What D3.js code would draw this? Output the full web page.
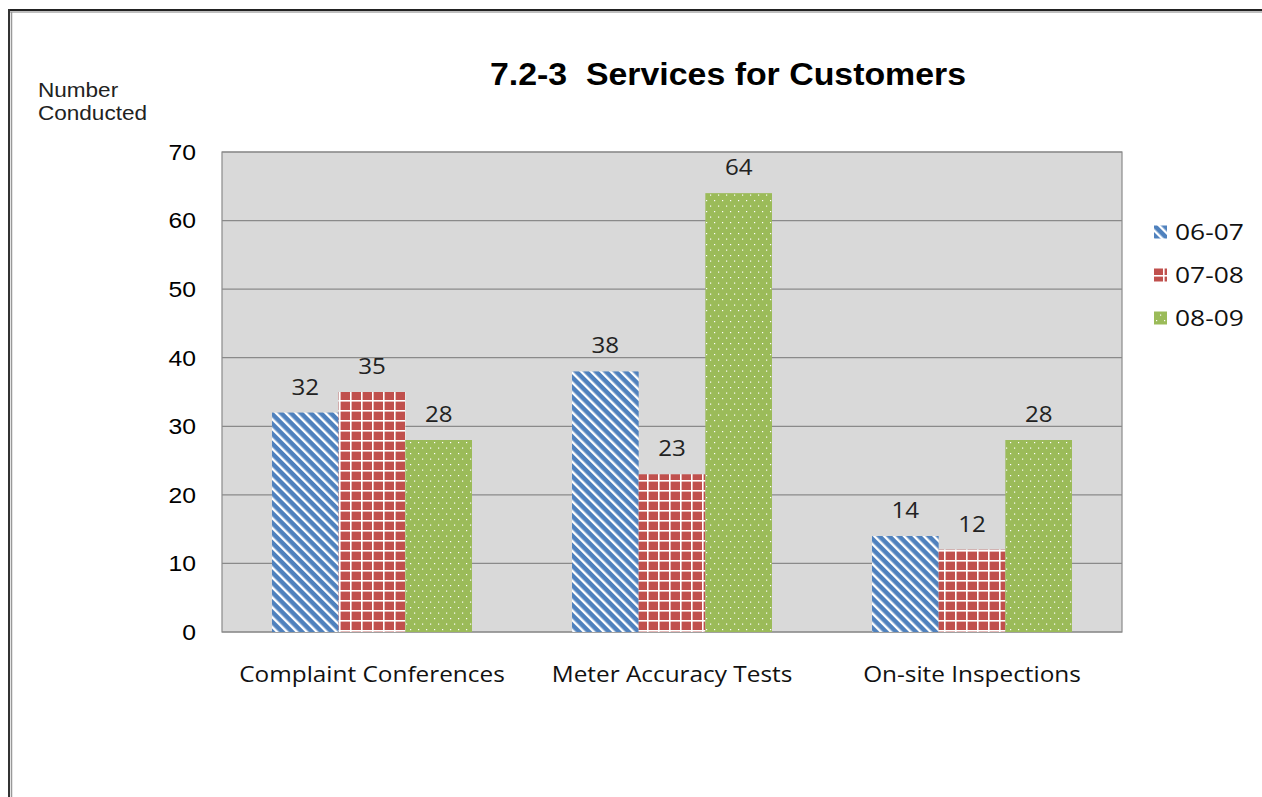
<!DOCTYPE html>
<html><head><meta charset="utf-8">
<script src="https://cdn.jsdelivr.net/npm/d3@7"></script>
<style>html,body{margin:0;padding:0;background:#fff;}svg{display:block;} text{white-space:pre;}</style>
</head><body>
<script>
const categories = ["Complaint Conferences", "Meter Accuracy Tests", "On-site Inspections"];
const seriesNames = ["06-07", "07-08", "08-09"];
const values0607 = [32, 38, 14];
const values0708 = [35, 23, 12];
const values0809 = [28, 64, 28];
const yTicks = [0, 10, 20, 30, 40, 50, 60, 70];
const titleText = "7.2-3  Services for Customers";
const yAxisTitle = ["Number", "Conducted"];

const allValues = [values0607, values0708, values0809];
const colors = ["#4F81BD", "#C0504D", "#9BBB59"];
const W = 1262, H = 797;
const svg = d3.select("body").append("svg").attr("width", W).attr("height", H);

// horizontal stretch of text (the reference glyphs are slightly widened)
function stretch(sel, sx) {
  sel.each(function() {
    const t = d3.select(this);
    const xv = +t.attr("x") || 0;
    const yv = +t.attr("y") || 0;
    t.attr("x", 0).attr("y", 0).attr("transform", `translate(${xv},${yv}) scale(${sx},1)`);
  });
}

// patterns
const defs = svg.append("defs");
const p0 = defs.append("pattern").attr("id", "pat0").attr("patternUnits", "userSpaceOnUse")
  .attr("width", 7).attr("height", 7).attr("patternTransform", "rotate(-45)");
p0.append("rect").attr("width", 7).attr("height", 7).attr("fill", colors[0]);
p0.append("rect").attr("x", 0).attr("width", 2.4).attr("height", 7).attr("fill", "#fff");

const p1 = defs.append("pattern").attr("id", "pat1").attr("patternUnits", "userSpaceOnUse")
  .attr("width", 11).attr("height", 10).attr("x", 0).attr("y", 2);
p1.append("rect").attr("width", 11).attr("height", 10).attr("fill", colors[1]);
p1.append("rect").attr("x", 9).attr("width", 1.6).attr("height", 10).attr("fill", "#fff");
p1.append("rect").attr("y", 8).attr("width", 11).attr("height", 1.6).attr("fill", "#fff");

const p2 = defs.append("pattern").attr("id", "pat2").attr("patternUnits", "userSpaceOnUse")
  .attr("width", 8).attr("height", 11);
p2.append("rect").attr("width", 8).attr("height", 11).attr("fill", colors[2]);
p2.append("rect").attr("x", 2).attr("y", 2).attr("width", 1.2).attr("height", 1.2).attr("fill", "#fff");
p2.append("rect").attr("x", 6).attr("y", 7.5).attr("width", 1.2).attr("height", 1.2).attr("fill", "#fff");

// frame
svg.append("line").attr("x1", 9).attr("x2", W).attr("y1", 10).attr("y2", 10).attr("stroke", "#222").attr("stroke-width", 2);
svg.append("line").attr("x1", 9).attr("x2", W).attr("y1", 12).attr("y2", 12).attr("stroke", "#aaa").attr("stroke-width", 1.5);
svg.append("line").attr("x1", 9).attr("x2", 9).attr("y1", 9).attr("y2", H).attr("stroke", "#333").attr("stroke-width", 2);
svg.append("line").attr("x1", 11.5).attr("x2", 11.5).attr("y1", 12).attr("y2", H).attr("stroke", "#999").attr("stroke-width", 1.5);

const pLeft = 222, pRight = 1122, pTop = 152, pBottom = 632;
const x0 = d3.scaleBand().domain(categories).range([pLeft, pRight]).paddingInner(1/3).paddingOuter(1/6);
const x1 = d3.scaleBand().domain(seriesNames).range([0, x0.bandwidth()]);
const y = d3.scaleLinear().domain([0, 70]).range([pBottom, pTop]);

svg.append("rect").attr("x", pLeft).attr("y", pTop).attr("width", pRight - pLeft).attr("height", pBottom - pTop)
  .attr("fill", "#D9D9D9");

// gridlines
svg.append("g").selectAll("line").data(yTicks).join("line")
  .attr("x1", pLeft).attr("x2", pRight).attr("y1", d => y(d)).attr("y2", d => y(d))
  .attr("stroke", "#8a8a8a").attr("stroke-width", 1.2);
svg.append("rect").attr("x", pLeft).attr("y", pTop).attr("width", pRight - pLeft).attr("height", pBottom - pTop)
  .attr("fill", "none").attr("stroke", "#8a8a8a").attr("stroke-width", 1.2);

// y axis labels
const yAxis = d3.axisLeft(y).tickValues(yTicks).tickSize(0).tickPadding(26);
const ga = svg.append("g").attr("transform", `translate(${pLeft},0)`).call(yAxis);
ga.select(".domain").remove();
ga.selectAll("text").attr("font-family", "Liberation Sans, Arial, sans-serif").attr("font-size", 21.5).attr("fill", "#000")
  .attr("dy", null).attr("dominant-baseline", "central");
stretch(ga.selectAll("text"), 1.15);

// bars
seriesNames.forEach((s, si) => {
  const g = svg.append("g");
  g.selectAll("rect").data(categories).join("rect")
    .attr("x", c => x0(c) + x1(s))
    .attr("y", (c, i) => y(allValues[si][i]))
    .attr("width", x1.bandwidth())
    .attr("height", (c, i) => y(0) - y(allValues[si][i]))
    .attr("fill", `url(#pat${si})`);
  const lbl = g.selectAll("text").data(categories).join("text")
    .attr("x", c => x0(c) + x1(s) + x1.bandwidth() / 2)
    .attr("y", (c, i) => y(allValues[si][i]) - 18)
    .attr("text-anchor", "middle")
    .attr("font-family", "Open Sans, sans-serif").attr("font-size", 21).attr("fill", "#222")
    .text((c, i) => allValues[si][i]);
  stretch(lbl, 1.15);
});

// x axis labels
const xAxis = d3.axisBottom(x0).tickSize(0).tickPadding(0);
const gx = svg.append("g").attr("transform", `translate(0,${pBottom})`).call(xAxis);
gx.select(".domain").remove();
gx.selectAll("text").attr("font-family", "Open Sans, sans-serif").attr("font-size", 21).attr("fill", "#111")
  .attr("dy", null).attr("y", 49.5);
stretch(gx.selectAll("text"), 1.16);

// title
const tt = svg.append("text").attr("x", 728).attr("y", 85).attr("text-anchor", "middle")
  .attr("font-family", "Liberation Sans, Arial, sans-serif").attr("font-weight", "bold").attr("font-size", 30.5)
  .attr("fill", "#000").text(titleText);
stretch(tt, 1.11);

// y axis title
const yt = svg.append("g").selectAll("text").data(yAxisTitle).join("text")
  .attr("x", 38).attr("y", (d, i) => 97 + i * 23)
  .attr("font-family", "Liberation Sans, Arial, sans-serif").attr("font-size", 20.5).attr("fill", "#222")
  .text(d => d);
stretch(yt, 1.1);

// legend
const lg = svg.append("g").selectAll("g").data(seriesNames).join("g")
  .attr("transform", (d, i) => `translate(1154,${232 + i * 43})`);
lg.append("rect").attr("x", 0).attr("y", -6.5).attr("width", 13).attr("height", 13)
  .attr("fill", (d, i) => `url(#pat${i})`);
const lt = lg.append("text").attr("x", 21).attr("y", 8).attr("font-family", "Open Sans, sans-serif").attr("font-size", 22)
  .attr("fill", "#111").text(d => d);
stretch(lt, 1.2);
</script>
</body></html>
